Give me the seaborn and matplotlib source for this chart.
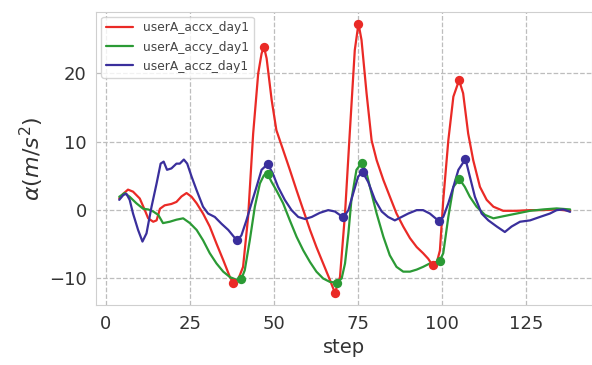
import matplotlib
matplotlib.use("Agg")
import matplotlib.pyplot as plt
import seaborn as sns

# ---------------------------------------------
# data
# ---------------------------------------------
accx_step = [4, 5.2, 6.6, 8.1, 10.1, 11.6, 12.6, 14.1, 15.1, 16.1, 17.5, 19.5, 21, 22.5,
             24, 25.5, 27, 28.9, 30.9, 32.9, 34.9, 36.9, 37.9, 39.3, 40.8, 42.3, 43.8,
             45.3, 46.3, 47.0, 47.8, 49.3, 50.7, 52.7, 54.7, 56.7, 58.7, 60.7, 62.6,
             64.6, 66.6, 68.1, 69.6, 71.1, 72.5, 74.0, 75.1, 76.0, 77.5, 79.0, 80.5,
             82.5, 84.4, 86.4, 88.4, 90.4, 92.4, 94.3, 95.8, 97.1, 98.3, 99.3, 100.3,
             101.8, 103.3, 105.0, 106.2, 107.7, 109.2, 111.2, 113.2, 115.2, 118.1,
             122.1, 126.1, 130, 134, 136, 138]
accx_val = [1.7, 2.4, 3.0, 2.7, 1.7, 0.0, -1.2, -1.7, -1.5, 0.2, 0.7, 0.9, 1.2, 2.0,
            2.5, 1.95, 1.0, -0.5, -2.4, -4.9, -7.3, -9.8, -10.6, -10.2, -8.3, -1.0, 11.2,
            20.0, 22.9, 23.9, 22.2, 16.1, 11.7, 8.8, 5.9, 2.9, 0.0, -2.9, -5.4,
            -7.8, -10.2, -12.1, -9.8, -0.5, 11.2, 23.4, 27.3, 24.9, 17.1, 10.2, 7.3,
            4.4, 2.0, -0.5, -2.4, -4.1, -5.4, -6.3, -7.1, -8.05, -7.8, -5.9, 1.5,
            10.2, 16.6, 19.0, 17.1, 11.2, 7.3, 3.4, 1.5, 0.5, -0.1,
            -0.1, 0.0, 0.0, 0.1, 0.0, -0.1]

accy_step = [4, 5.6, 7.1, 9.1, 11.1, 12.6, 14.1, 15.6, 17, 19, 21, 23, 25, 27, 28.9,
             30.9, 32.9, 34.9, 36.9, 38.9, 40.3, 41.3, 42.8, 44.3, 45.8, 47.0, 48.1,
             49.3, 50.7, 52.7, 54.7, 56.7, 58.7, 60.7, 62.6, 64.6, 66.6, 68.6, 70.1,
             71.1, 72.1, 73.0, 74.5, 76.1, 77.5, 79.0, 80.5, 82.5, 84.4, 86.4, 88.4,
             90.4, 92.4, 94.3, 96.3, 99.2, 100.3, 101.8, 103.3, 105.1, 106.7, 108.2,
             110.2, 112.7, 115.2, 118.1, 122.1, 126.1, 130, 134, 138]
accy_val = [1.95, 2.5, 1.95, 1.0, 0.2, 0.1, -0.2, -0.7, -1.9, -1.7, -1.4, -1.2, -1.9,
            -2.9, -4.4, -6.3, -7.8, -9.0, -9.8, -10.2, -10.05, -8.8, -4.4, 0.5, 3.9,
            5.1, 5.27, 4.1, 2.9, 1.0, -1.5, -3.9, -5.9, -7.6, -9.0, -10.0, -10.5,
            -10.6, -10.0, -7.8, -3.4, 1.5, 5.9, 6.93, 5.4, 2.4, -0.5, -3.9, -6.6,
            -8.3, -9.0, -9.0, -8.7, -8.3, -7.8, -7.47, -6.3, -1.0, 3.4, 4.54, 3.4,
            1.95, 0.5, -0.7, -1.2, -0.9, -0.5, -0.1, 0.1, 0.25, 0.1]

accz_step = [4, 5.2, 6.1, 7.1, 8.1, 9.6, 10.9, 12.1, 13.6, 15.1, 16.3, 17.2, 18.2,
             19.5, 21, 22, 23.2, 24.2, 25.5, 27, 28.9, 30.4, 32.4, 34.4, 36.4, 38.4,
             39.1, 40.3, 41.8, 43.3, 44.8, 46.3, 48.1, 49.6, 51.2, 53.2, 55.2, 57.2,
             59.2, 61.2, 63.6, 66.1, 68.1, 70.6, 72.1, 73.5, 75.0, 76.3, 78.0, 80.0,
             82.0, 83.9, 85.9, 87.9, 89.9, 92.4, 94.3, 96.3, 98.9, 100.3, 101.8,
             103.3, 104.8, 106.9, 108.2, 109.7, 111.7, 113.7, 116.2, 118.6, 120.6,
             123.1, 126.1, 129, 132, 134, 136, 138]
accz_val = [1.5, 2.2, 2.4, 1.5, -0.5, -2.9, -4.6, -3.4, 0.5, 3.9, 6.8, 7.1, 5.9,
            6.1, 6.8, 6.8, 7.4, 6.8, 4.9, 2.9, 0.5, -0.5, -1.0, -2.0, -2.9, -4.1,
            -4.39, -3.7, -1.5, 1.0, 3.4, 5.9, 6.73, 5.4, 3.4, 1.5, 0.0, -1.0,
            -1.3, -1.0, -0.4, 0.0, -0.2, -1.07, 0.0, 2.4, 4.9, 5.6, 4.1, 1.5,
            -0.2, -1.0, -1.5, -1.0, -0.5, 0.0, 0.0, -0.5, -1.56, -1.0, 1.0,
            3.4, 5.9, 7.47, 4.9, 1.95, -0.5, -1.5, -2.4, -3.2, -2.4,
            -1.7, -1.5, -1.0, -0.5, 0.0, 0.1, -0.25]

# detected extrema (markers)
accx_peak_step = [37.9, 47.0, 68.1, 75.1, 97.1, 105.0]
accx_peak_val = [-10.6, 23.9, -12.1, 27.3, -8.05, 19.0]
accy_peak_step = [40.3, 48.1, 68.6, 76.1, 99.2, 105.1]
accy_peak_val = [-10.05, 5.27, -10.6, 6.93, -7.47, 4.54]
accz_peak_step = [39.1, 48.1, 70.6, 76.3, 98.9, 106.9]
accz_peak_val = [-4.39, 6.73, -1.07, 5.6, -1.56, 7.47]

series = [
    ("userA_accx_day1", accx_step, accx_val, accx_peak_step, accx_peak_val, "#ea2a26"),
    ("userA_accy_day1", accy_step, accy_val, accy_peak_step, accy_peak_val, "#2b9a35"),
    ("userA_accz_day1", accz_step, accz_val, accz_peak_step, accz_peak_val, "#3a2f9c"),
]

# ---------------------------------------------
# plot
# ---------------------------------------------
sns.set_style("whitegrid", {"grid.linestyle": "--", "grid.color": "#bdbdbd",
                            "axes.edgecolor": "#cfcfcf"})
plt.rcParams["font.family"] = ["DejaVu Sans"]

fig = plt.figure(figsize=(5.92, 3.65), dpi=100)
ax = fig.add_axes([0.163, 0.164, 0.837, 0.804])

for name, xs, ys, px, py, col in series:
    sns.lineplot(x=xs, y=ys, color=col, linewidth=1.6, label=name, ax=ax, sort=False)
    sns.scatterplot(x=px, y=py, color=col, s=45, edgecolor=col, linewidth=0,
                    ax=ax, legend=False, zorder=3)

ax.grid(True, linestyle="--", linewidth=0.9, color="#bdbdbd")
ax.set_xlim(-2.76, 144.5)
ax.set_ylim(-13.9, 29.03)
ax.set_xticks([0, 25, 50, 75, 100, 125])
ax.set_yticks([-10, 0, 10, 20])
ax.tick_params(labelsize=13, colors="#333333")
ax.set_xlabel("step", fontsize=14, color="#333333", labelpad=4)
ax.set_ylabel(r"$\alpha(m/s^2)$", fontsize=16, color="#333333", labelpad=2)

ax.legend(loc="upper left", fontsize=8.8, frameon=True, handlelength=2.2,
          borderaxespad=0.4, labelcolor="#444444", edgecolor="#cccccc")

plt.savefig("out.png", dpi=100)
